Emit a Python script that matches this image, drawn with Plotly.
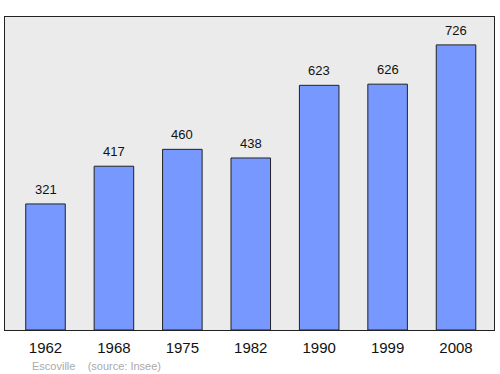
import plotly.graph_objects as go

years = ["1962", "1968", "1975", "1982", "1990", "1999", "2008"]
population = [321, 417, 460, 438, 623, 626, 726]

idx = list(range(len(years)))

fig = go.Figure()
fig.add_trace(go.Bar(
    x=idx, y=population, width=0.578,
    marker=dict(color="#7799ff", line=dict(color="#222222", width=1)),
    hoverinfo="skip",
))

for i, v in zip(idx, population):
    fig.add_annotation(x=i, y=v, text=str(v), showarrow=False,
                       yanchor="bottom", yshift=5,
                       font=dict(family="Liberation Sans, Arial", size=13, color="#111111"))

fig.add_annotation(xref="paper", yref="paper", x=0.051, y=0.0, yshift=-28,
                   text="Escoville &nbsp;&nbsp; (source: Insee)", showarrow=False,
                   xanchor="left", yanchor="top",
                   font=dict(family="Liberation Sans, Arial", size=11, color="#aaaaaa"))

fig.update_layout(
    width=500, height=374,
    margin=dict(l=5, r=6, t=17, b=44),
    paper_bgcolor="white", plot_bgcolor="#ebebeb",
    showlegend=False,
    xaxis=dict(range=[-0.592, 6.555], tickvals=idx, ticktext=years,
               showgrid=False, zeroline=False, showline=True, mirror=True,
               linecolor="#222222", linewidth=1, ticks="", ticklabelstandoff=4,
               tickfont=dict(family="Liberation Sans, Arial", size=15, color="#111111")),
    yaxis=dict(range=[0, 797], showticklabels=False, showgrid=False, zeroline=False,
               showline=True, mirror=True, linecolor="#222222", linewidth=1, ticks=""),
)

fig.write_html("out.html")
